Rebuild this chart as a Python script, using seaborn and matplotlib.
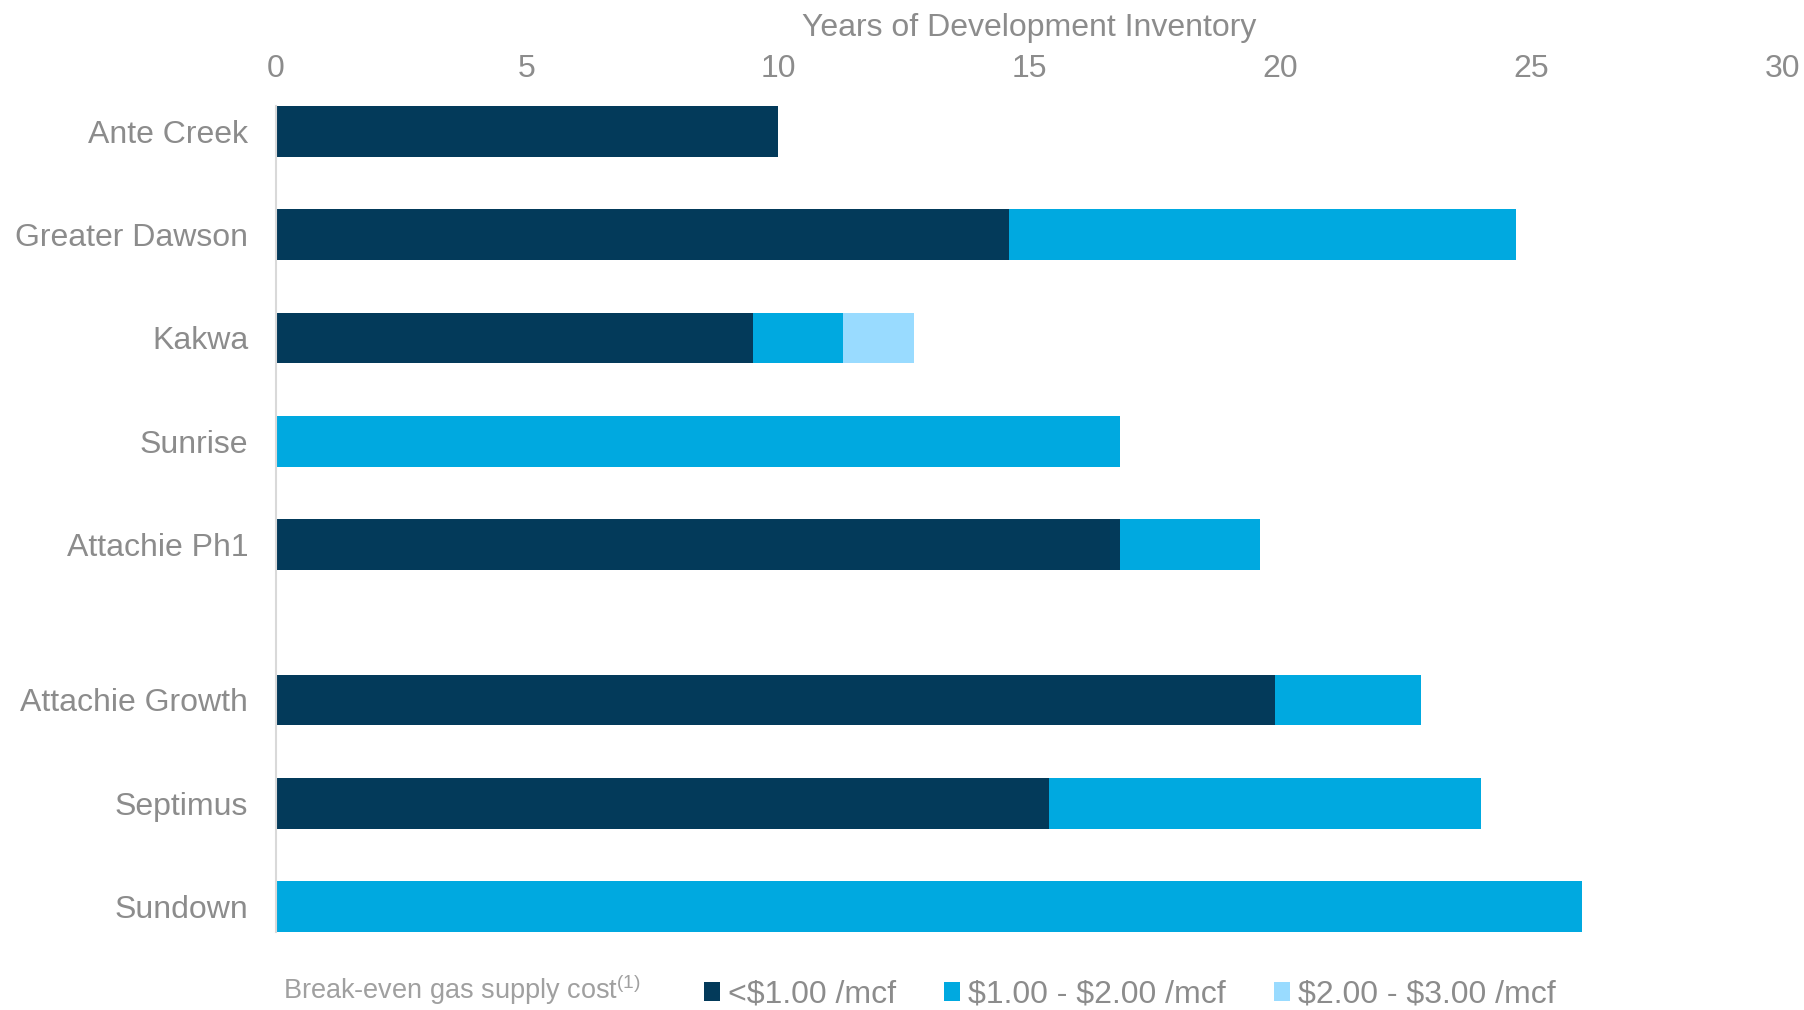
import pandas as pd
import seaborn as sns
import matplotlib.pyplot as plt
from matplotlib.patches import Patch

plt.rcParams['font.family'] = ['Liberation Sans', 'DejaVu Sans']
plt.rcParams['mathtext.fontset'] = 'custom'
plt.rcParams['mathtext.rm'] = 'Liberation Sans'
plt.rcParams['mathtext.default'] = 'regular'

# data (years of inventory)
areas = ['Ante Creek', 'Greater Dawson', 'Kakwa', 'Sunrise', 'Attachie Ph1',
         'Attachie Growth', 'Septimus', 'Sundown']
row_pos = [0, 1, 2, 3, 4, 5.5, 6.5, 7.5]
below_1 = [10.0, 14.6, 9.5, 0.0, 16.8, 19.9, 15.4, 0.0]
from_1_to_2 = [0.0, 10.1, 1.8, 16.8, 2.8, 2.9, 8.6, 26.0]
from_2_to_3 = [0.0, 0.0, 1.4, 0.0, 0.0, 0.0, 0.0, 0.0]
legend_labels = ['<\\$1.00 /mcf', '\\$1.00 - \\$2.00 /mcf', '\\$2.00 - \\$3.00 /mcf']
xticks = [0, 5, 10, 15, 20, 25, 30]

colors = ['#033A5A', '#00A9E0', '#99DBFF']
grey = '#8C8C8C'

df = pd.DataFrame({'area': areas, 'pos': row_pos, 'c1': below_1,
                   'c2': from_1_to_2, 'c3': from_2_to_3})
df['s1'] = df['c1']
df['s2'] = df['c1'] + df['c2']
df['s3'] = df['s2'] + df['c3']

fig = plt.figure(figsize=(18.04, 10.10), dpi=100)
ax = fig.add_axes([0.153, 0.0772, 0.835, 0.818])

# draw stacks from the longest cumulative total down
for col, c in zip(['s3', 's2', 's1'], colors[::-1]):
    sns.barplot(data=df, x=col, y='pos', orient='h', native_scale=True,
                width=0.49, color=c, saturation=1, ax=ax)

ax.set_xlim(0, 30)
ax.set_ylim(7.5 + 0.245, -0.245)
ax.set_xticks(xticks)
ax.set_yticks(row_pos)
ax.set_yticklabels(areas)
ax.xaxis.tick_top()
ax.xaxis.set_label_position('top')
ax.set_xlabel('Years of Development Inventory', fontsize=23, color=grey, labelpad=13)
ax.set_ylabel('')
ax.tick_params(axis='x', length=0, pad=16, labelsize=23, labelcolor=grey)
ax.tick_params(axis='y', length=0, pad=20, labelsize=23, labelcolor=grey)

for s in ['top', 'right', 'bottom']:
    ax.spines[s].set_visible(False)
ax.spines['left'].set_color('#D9D9D9')
ax.spines['left'].set_linewidth(1.5)

fig.text(0.157, 0.02, 'Break-even gas supply cost$^{(1)}$', fontsize=19.5,
         color='#A0A0A0', va='center', ha='left')
handles = [Patch(facecolor=c, edgecolor='none') for c in colors]
fig.legend(handles, legend_labels, loc='center left', bbox_to_anchor=(0.3815, 0.015),
           ncol=3, frameon=False, fontsize=23, labelcolor=grey, borderpad=0,
           handlelength=0.5, handleheight=0.5, handletextpad=0.25, columnspacing=1.5)

fig.savefig('out.png', dpi=100)
